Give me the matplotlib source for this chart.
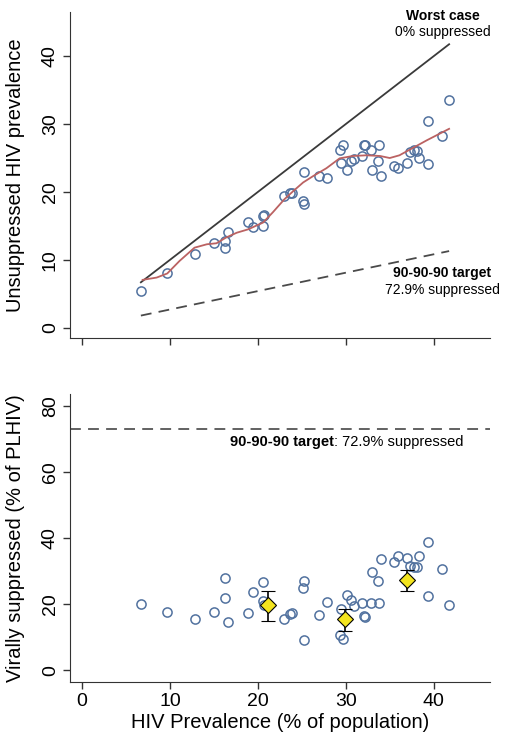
import numpy as np
import matplotlib
matplotlib.use("Agg")
import matplotlib.pyplot as plt

plt.rcParams['font.family'] = ['Liberation Sans', 'DejaVu Sans']

# HIV prevalence (% of population) per country
prev = [6.7, 9.7, 12.8, 15.0, 16.25, 16.3, 16.55, 18.9, 19.5, 20.6, 20.6, 20.7,
        23.0, 23.7, 23.9, 25.1, 25.2, 25.3, 27.0, 27.9, 29.3, 29.7, 29.4, 30.1,
        30.6, 30.9, 31.9, 32.05, 32.2, 32.9, 33.0, 33.7, 33.75, 34.0, 35.45, 35.9,
        37.0, 37.3, 37.8, 38.1, 38.3, 39.35, 39.3, 40.9, 41.75]
# unsuppressed HIV prevalence
unsupp = [5.4, 8.0, 10.9, 12.5, 11.8, 12.8, 14.1, 15.6, 14.9, 15.0, 16.5, 16.6,
          19.4, 19.8, 19.9, 18.7, 18.3, 23.0, 22.4, 22.1, 26.2, 26.9, 24.2, 23.2,
          24.6, 24.8, 25.3, 26.9, 26.9, 26.2, 23.2, 24.6, 26.9, 22.4, 23.8, 23.6,
          24.3, 25.9, 26.2, 26.0, 25.0, 24.1, 30.4, 28.3, 33.5]
# virally suppressed (% of PLHIV)
supp = [20.2, 17.8, 15.7, 17.7, 27.9, 21.9, 14.7, 17.3, 23.7, 26.7, 21.0, 19.8,
        15.7, 17.0, 17.3, 25.0, 27.0, 9.1, 16.7, 20.7, 10.8, 9.5, 18.5, 22.7,
        21.2, 19.4, 20.3, 16.5, 16.3, 20.3, 29.9, 27.0, 20.3, 33.8, 32.7, 34.5,
        34.0, 31.5, 31.2, 31.2, 34.5, 38.7, 22.5, 30.6, 19.7]

# smoothed curve
smooth_x = [6.9, 8.5, 9.7, 11.1, 12.8, 14.2, 15.3, 16.4, 17.6, 18.9, 20.6, 21.7,
            23.0, 24.0, 25.15, 26.3, 27.8, 29.3, 30.8, 32.35, 33.9, 35.0, 36.1,
            37.65, 39.2, 41.75]
smooth_y = [7.06, 7.4, 8.0, 9.85, 11.8, 12.3, 12.45, 13.3, 14.0, 14.5, 15.5, 17.0,
            18.9, 20.1, 21.4, 22.35, 23.5, 24.95, 25.3, 25.4, 25.3, 25.0, 25.4,
            26.5, 27.6, 29.3]

# reference lines
worst_x = [6.7, 41.75]
worst_y = [6.7, 41.75]
target_x = [6.7, 41.75]
target_y = [1.8, 11.3]
target_pct = 72.9

# group means with confidence intervals
grp_x = [21.1, 29.95, 37.0]
grp_mean = [19.7, 15.5, 27.4]
grp_lo = [15.0, 11.8, 24.0]
grp_hi = [24.1, 18.5, 30.5]

circ = '#52729f'

fig = plt.figure(figsize=(5.12, 7.38), dpi=100)
ax1 = fig.add_axes([70/512, 1-338/738, 420/512, 326/738])
ax2 = fig.add_axes([70/512, 1-682/738, 420/512, 288/738])

for ax in (ax1, ax2):
    ax.spines['top'].set_visible(False)
    ax.spines['right'].set_visible(False)
    ax.spines['left'].set_color('#333333')
    ax.spines['bottom'].set_color('#333333')
    ax.set_xlim(-1.36, 46.4)
    ax.set_xticks([0, 10, 20, 30, 40])
    ax.tick_params(direction='out', length=5, width=1, colors='#333333',
                   labelsize=14, labelcolor='black', pad=3)
    ax.tick_params(axis='y', labelrotation=90)

# top panel
ax1.plot(worst_x, worst_y, color='#3a3a3a', lw=1.3)
ax1.plot(target_x, target_y, color='#4a4a4a', lw=1.3, dashes=(6, 4))
ax1.plot(prev, unsupp, 'o', ms=6.6, mfc='none', mec=circ, mew=1.1)
ax1.plot(smooth_x, smooth_y, color='#bb6262', lw=1.3)
ax1.set_ylim(-1.5, 46.5)
ax1.set_yticks([0, 10, 20, 30, 40])
ax1.set_xticklabels([])
ax1.set_ylabel('Unsuppressed HIV prevalence', fontsize=14.5)
ax1.yaxis.set_label_coords(-0.107, 0.5)
ax1.text(41.0, 45.85, 'Worst case', ha='center', va='center', fontsize=10, fontweight='bold')
ax1.text(41.0, 43.5, '0% suppressed', ha='center', va='center', fontsize=10)
ax1.text(41.0, 8.0, '90-90-90 target', ha='center', va='center', fontsize=10, fontweight='bold')
ax1.text(41.0, 5.6, '72.9% suppressed', ha='center', va='center', fontsize=10)

# bottom panel
ax2.axhline(target_pct, color='#555555', lw=1.3, dashes=(6, 4))
ax2.plot(prev, supp, 'o', ms=6.6, mfc='none', mec=circ, mew=1.1)
yerr = [np.array(grp_mean) - np.array(grp_lo), np.array(grp_hi) - np.array(grp_mean)]
ax2.errorbar(grp_x, grp_mean, yerr=yerr, fmt='D', ms=8, mfc='#f3e41e', mec='black',
             mew=0.8, ecolor='black', elinewidth=1.2, capsize=5, capthick=1.2)
ax2.set_ylim(-3.5, 83.6)
ax2.set_yticks([0, 20, 40, 60, 80])
ax2.set_ylabel('Virally suppressed (% of PLHIV)', fontsize=14.5)
ax2.yaxis.set_label_coords(-0.107, 0.5)
ax2.set_xlabel('HIV Prevalence (% of population)', fontsize=14.5, labelpad=2)
t1 = ax2.text(16.8, 69.2, '90-90-90 target', ha='left', va='center', fontsize=10.5,
              fontweight='bold')
ax2.annotate(': 72.9% suppressed', xy=(1, 0.5), xycoords=t1, ha='left', va='center',
             fontsize=10.5)

for ax in (ax1, ax2):
    for lbl in ax.get_yticklabels():
        lbl.set_va('center')

fig.savefig('out.png', dpi=100)
